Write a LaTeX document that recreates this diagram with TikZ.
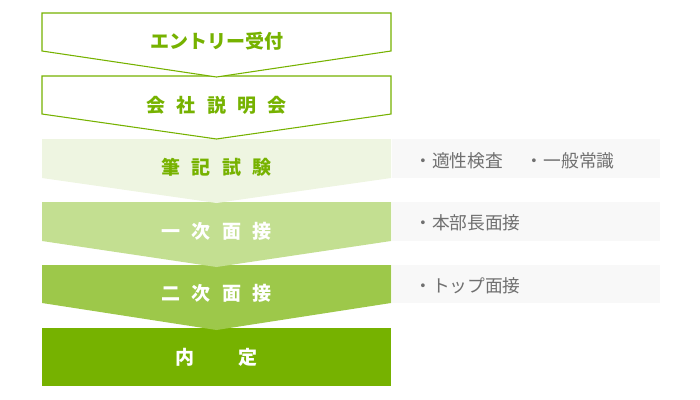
\documentclass[tikz,border=0pt]{standalone}
\usepackage{fontspec}
\setmainfont{Noto Sans CJK JP}
\definecolor{leaf}{HTML}{76B200}
\definecolor{paleleaf}{HTML}{EEF5E1}
\definecolor{softleaf}{HTML}{C3DF91}
\definecolor{midleaf}{HTML}{9DC84A}
\definecolor{notefill}{HTML}{F8F8F8}
\definecolor{notetext}{HTML}{707070}
\newcommand{\lgap}{\hspace{0.6em}}

\begin{document}
\begin{tikzpicture}[x = 0.75pt, y = -0.75pt, outlined/.style={draw = leaf, fill = white, line width = 0.8pt}, stagetext/.style={font = \fontsize{14.25}{17}\selectfont\bfseries, inner sep = 0pt}, note/.style={font = \fontsize{13.3}{16}\selectfont, text = notetext, anchor = west, inner sep = 0pt}]
        \useasboundingbox (0,0) rectangle (700,400);
        \fill [notefill] (392,139) rectangle (660,178);
        \fill [notefill] (392,202) rectangle (660,241);
        \fill [notefill] (392,265) rectangle (660,303);
        \node (note1) at (414,160.5) [note] {・適性検査\hspace{1.3em}・一般常識};
        \node (note2) at (414,223) [note] {・本部長面接};
        \node (note3) at (414,286) [note] {・トップ面接};
        \fill [leaf] (42,328) rectangle (391,386);
        \node (offer) at (216.5,357) [stagetext, text = white] {内\hspace{2.3em}定};
        \fill [midleaf] (42,265) -- (391,265) -- (391,303) -- (216.5,330) -- (42,303) -- cycle;
        \node (second) at (216.5,293) [stagetext, text = white] {二\lgap 次\lgap 面\lgap 接};
        \fill [softleaf] (42,202) -- (391,202) -- (391,241) -- (216.5,267) -- (42,241) -- cycle;
        \node (first) at (216.5,231) [stagetext, text = white] {一\lgap 次\lgap 面\lgap 接};
        \fill [paleleaf] (42,139) -- (391,139) -- (391,178) -- (216.5,203) -- (42,178) -- cycle;
        \node (written) at (216.5,167) [stagetext, text = leaf] {筆\lgap 記\lgap 試\lgap 験};
        \draw [outlined] (42,76) -- (391,76) -- (391,114) -- (216.5,139) -- (42,114) -- cycle;
        \node (briefing) at (216.5,105) [stagetext, text = leaf] {会\lgap 社\lgap 説\lgap 明\lgap 会};
        \draw [outlined] (42,13) -- (391,13) -- (391,51) -- (216.5,77) -- (42,51) -- cycle;
        \node (entry) at (216.5,41) [stagetext, text = leaf] {エントリー受付};
    \end{tikzpicture}
\end{document}
